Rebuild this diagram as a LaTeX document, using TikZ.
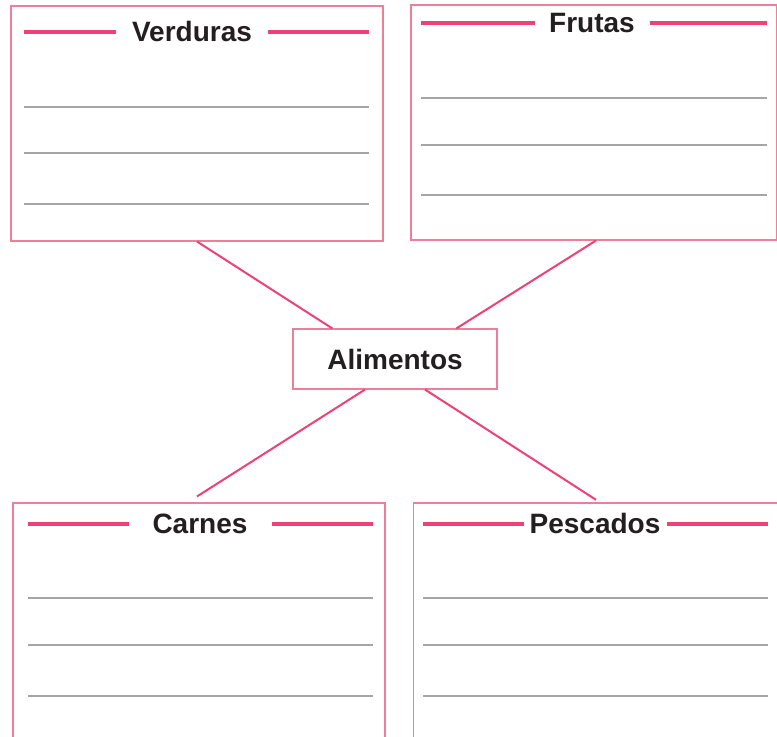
\documentclass[tikz,border=0pt]{standalone}
\usepackage{fontspec}
\setmainfont{Liberation Sans}
\usepackage{tikz}
\usepackage{xcolor}

\definecolor{rosaclaro}{RGB}{240,125,155}
\definecolor{rosa}{RGB}{238,66,118}
\definecolor{cinza}{RGB}{165,165,165}
\definecolor{tinta}{RGB}{35,31,32}

\tikzset{
  caixa/.style={rectangle, draw=rosaclaro, line width=0.8pt, fill=white, inner sep=0pt},
  titulo/.style={anchor=base, inner sep=0pt, text=tinta, font=\fontsize{21}{25}\selectfont\bfseries},
  fio/.style={draw=rosa, line width=2.4pt},
  pauta/.style={draw=cinza, line width=1pt},
  ligacao/.style={draw=rosa, line width=1.5pt}
}

\begin{document}
\begin{tikzpicture}[x=0.75pt, y=-0.75pt]
\clip (0,0) rectangle (777,736);
\fill[white] (0,0) rectangle (777,736);

% caixas
\node[caixa, minimum width=279pt, minimum height=176.25pt] (verd) at (197,123.5) {};
\node[caixa, minimum width=274.5pt, minimum height=176.25pt] (frut) at (594,122.5) {};
\node[caixa, minimum width=279pt, minimum height=176.25pt] (carn) at (199,620.5) {};
\node[caixa, minimum width=280pt, minimum height=176.25pt] (pesc) at (600,620.5) {};
\node[caixa, minimum width=153pt, minimum height=45pt, titulo, anchor=center] (alim) at (395,359) {Alimentos};

% ligacoes
\draw[ligacao] (verd.south) -- ([xshift=-47pt]alim.north);
\draw[ligacao] ([xshift=1.5pt]frut.south) -- ([xshift=46pt]alim.north);
\draw[ligacao] ([xshift=-22.5pt]alim.south) -- ([xshift=-1.5pt,yshift=4.5pt]carn.north);
\draw[ligacao] ([xshift=22.5pt]alim.south) -- ([xshift=-3pt,yshift=2pt]pesc.north);

% titulos
\node[titulo] (tverd) at (192,41) {Verduras};
\node[titulo] (tfrut) at (592,32) {Frutas};
\node[titulo] (tcarn) at (200,533) {Carnes};
\node[titulo] (tpesc) at (595,533) {Pescados};

\draw[fio] (24,32) -- (116,32) (268,32) -- (369,32);
\draw[fio] (421,23) -- (535,23) (650,23) -- (767,23);
\draw[fio] (28,524) -- (129,524) (272,524) -- (373,524);
\draw[fio] (423,524) -- (524,524) (667,524) -- (768,524);

% pautas
\foreach \y in {107,153,204} \draw[pauta] (24,\y) -- (369,\y);
\foreach \y in {98,145,195} \draw[pauta] (421,\y) -- (767,\y);
\foreach \y in {598,645,696} {
  \draw[pauta] (28,\y) -- (373,\y);
  \draw[pauta] (423,\y) -- (768,\y);
}
\end{tikzpicture}
\end{document}
